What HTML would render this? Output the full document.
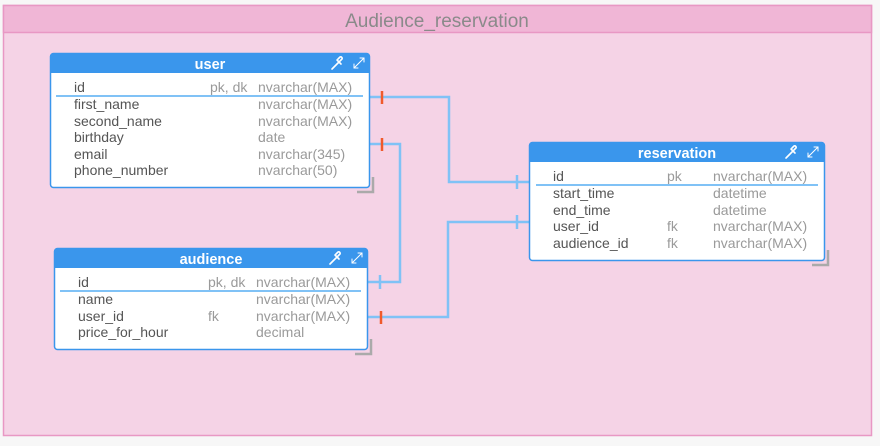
<!DOCTYPE html>
<html><head><meta charset="utf-8"><style>
html,body{margin:0;padding:0;background:#f7f7f7;width:880px;height:446px;overflow:hidden}
svg{display:block}
text{font-family:"Liberation Sans",sans-serif;font-size:14px}
.n{fill:#555}
.g{fill:#9a9a9a}
.h{fill:#fff;font-weight:600;font-size:14.5px}
</style></head><body>
<svg width="880" height="446" viewBox="0 0 880 446">
<rect x="3.5" y="5.5" width="868" height="430" fill="#f5d3e6" stroke="#e898c4" stroke-width="1.5"/>
<rect x="3.5" y="5.5" width="868" height="27" fill="#f0b6d6" stroke="#e898c4" stroke-width="1.5"/>
<text x="437" y="27" text-anchor="middle" style="font-size:19px;fill:#8a8a8a">Audience_reservation</text>

<g stroke="#80c2f6" stroke-width="2.5" fill="none">
<polyline points="369,97 449,97 449,182 529,182"/>
<polyline points="369,144 400,144 400,282 367,282"/>
<polyline points="367,317 448,317 448,222 529,222"/>
<line x1="517" y1="175" x2="517" y2="189"/>
<line x1="517" y1="215" x2="517" y2="229"/>
<line x1="380" y1="275" x2="380" y2="289"/>
</g>
<g stroke="#f05a2c" stroke-width="2.5">
<line x1="382" y1="91" x2="382" y2="104"/>
<line x1="382" y1="138" x2="382" y2="151"/>
<line x1="381" y1="311" x2="381" y2="324"/>
</g>

<g stroke="#aaa" stroke-width="2.5" fill="none">
<polyline points="357,192 373,192 373,177"/>
<polyline points="355,354 371,354 371,339"/>
<polyline points="812,265 828,265 828,250"/>
</g>

<g>
<rect x="50.5" y="53.5" width="319" height="134" rx="3" fill="#fff" stroke="#3a96ec" stroke-width="1.5"/>
<path d="M50.5,73 V56.5 a3,3 0 0 1 3,-3 H366.5 a3,3 0 0 1 3,3 V73 Z" fill="#3a96ec"/>
<text x="210" y="69" text-anchor="middle" class="h">user</text>
<line x1="56" y1="96" x2="363" y2="96" stroke="#80c2f6" stroke-width="2"/>
<text x="74" y="92" class="n">id</text><text x="210" y="92" class="g">pk, dk</text><text x="258" y="92" class="g">nvarchar(MAX)</text>
<text x="74" y="109" class="n">first_name</text><text x="258" y="109" class="g">nvarchar(MAX)</text>
<text x="74" y="126" class="n">second_name</text><text x="258" y="126" class="g">nvarchar(MAX)</text>
<text x="74" y="142" class="n">birthday</text><text x="258" y="142" class="g">date</text>
<text x="74" y="159" class="n">email</text><text x="258" y="159" class="g">nvarchar(345)</text>
<text x="74" y="175" class="n">phone_number</text><text x="258" y="175" class="g">nvarchar(50)</text>
</g>

<g>
<rect x="54.5" y="248.5" width="313" height="101" rx="3" fill="#fff" stroke="#3a96ec" stroke-width="1.5"/>
<path d="M54.5,268 V251.5 a3,3 0 0 1 3,-3 H364.5 a3,3 0 0 1 3,3 V268 Z" fill="#3a96ec"/>
<text x="211" y="264" text-anchor="middle" class="h">audience</text>
<line x1="60" y1="291" x2="361" y2="291" stroke="#80c2f6" stroke-width="2"/>
<text x="78" y="287" class="n">id</text><text x="208" y="287" class="g">pk, dk</text><text x="256" y="287" class="g">nvarchar(MAX)</text>
<text x="78" y="304" class="n">name</text><text x="256" y="304" class="g">nvarchar(MAX)</text>
<text x="78" y="321" class="n">user_id</text><text x="208" y="321" class="g">fk</text><text x="256" y="321" class="g">nvarchar(MAX)</text>
<text x="78" y="337" class="n">price_for_hour</text><text x="256" y="337" class="g">decimal</text>
</g>

<g>
<rect x="529.5" y="142.5" width="295" height="118" rx="3" fill="#fff" stroke="#3a96ec" stroke-width="1.5"/>
<path d="M529.5,162 V145.5 a3,3 0 0 1 3,-3 H821.5 a3,3 0 0 1 3,3 V162 Z" fill="#3a96ec"/>
<text x="677" y="158" text-anchor="middle" class="h">reservation</text>
<line x1="536" y1="185" x2="818" y2="185" stroke="#80c2f6" stroke-width="2"/>
<text x="553" y="181" class="n">id</text><text x="667" y="181" class="g">pk</text><text x="713" y="181" class="g">nvarchar(MAX)</text>
<text x="553" y="198" class="n">start_time</text><text x="713" y="198" class="g">datetime</text>
<text x="553" y="215" class="n">end_time</text><text x="713" y="215" class="g">datetime</text>
<text x="553" y="231" class="n">user_id</text><text x="667" y="231" class="g">fk</text><text x="713" y="231" class="g">nvarchar(MAX)</text>
<text x="553" y="248" class="n">audience_id</text><text x="667" y="248" class="g">fk</text><text x="713" y="248" class="g">nvarchar(MAX)</text>
</g>

<g stroke="#fff" stroke-width="1.6" fill="none" stroke-linecap="round">
<g transform="translate(337,63)"><path d="M-5,6 L2,-1 M0,-3 L4,1 M1,-4 l2,-2 a1.5,1.5 0 0 1 2,2 l-2,2"/></g>
<g transform="translate(359,63)"><path d="M-5,5 L5,-5 M1,-5 H5 V-1 M-5,1 V5 H-1" stroke-width="1"/></g>
<g transform="translate(335,258)"><path d="M-5,6 L2,-1 M0,-3 L4,1 M1,-4 l2,-2 a1.5,1.5 0 0 1 2,2 l-2,2"/></g>
<g transform="translate(357,258)"><path d="M-5,5 L5,-5 M1,-5 H5 V-1 M-5,1 V5 H-1" stroke-width="1"/></g>
<g transform="translate(791,152)"><path d="M-5,6 L2,-1 M0,-3 L4,1 M1,-4 l2,-2 a1.5,1.5 0 0 1 2,2 l-2,2"/></g>
<g transform="translate(813,152)"><path d="M-5,5 L5,-5 M1,-5 H5 V-1 M-5,1 V5 H-1" stroke-width="1"/></g>
</g>
</svg>
</body></html>
